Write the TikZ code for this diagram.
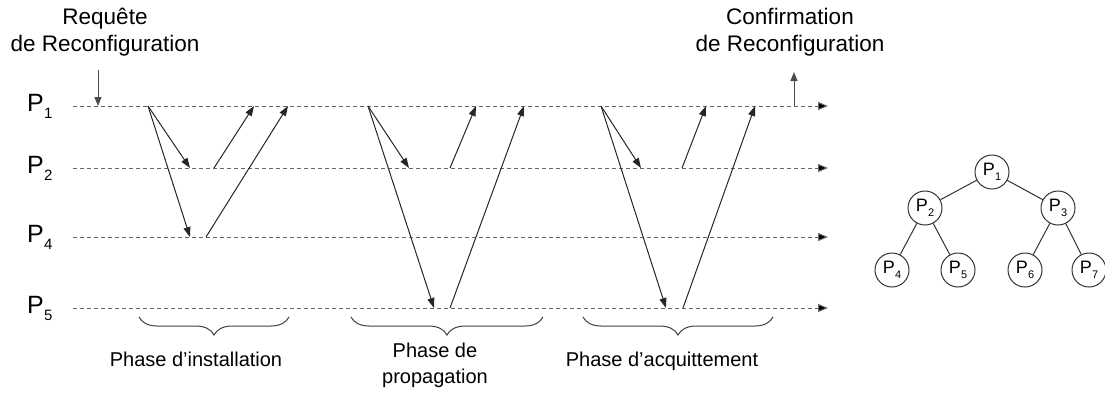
\documentclass[tikz,border=0pt]{standalone}
\usepackage{fontspec}
\setmainfont{Liberation Sans}
\usetikzlibrary{arrows.meta,decorations.pathreplacing}

% process name with lowered index
\newcommand{\procname}[2]{P\kern0.3pt\raisebox{-0.3em}{\fontsize{#2}{#2}\selectfont #1}}

\begin{document}
\begin{tikzpicture}[x=1pt,y=-1pt,
  timeline/.style={draw=black!60, dashed, dash pattern=on 4pt off 3pt, line width=1pt,
    -{Triangle[length=10pt,width=8pt,fill=black]}},
  msg/.style={draw=black!85, line width=1pt, -{Triangle[length=10pt,width=7pt]}},
  sig/.style={draw=black!70, line width=1pt, -{Triangle[length=9pt,width=7pt]}},
  proclabel/.style={anchor=base west, inner sep=0pt, font=\fontsize{25}{25}\selectfont},
  headtext/.style={align=center, inner sep=0pt, font=\fontsize{22.5}{27}\selectfont},
  phasetext/.style={align=center, inner sep=0pt, font=\fontsize{20}{26}\selectfont},
  phasebrace/.style={draw=black!75, line width=1pt,
    decorate, decoration={brace, mirror, amplitude=18pt}},
  treenode/.style={circle, draw=black!80, line width=1pt, minimum size=34pt, inner sep=0pt,
    font=\fontsize{18}{18}\selectfont},
  treeedge/.style={draw=black!80, line width=1pt}]

\useasboundingbox (0,0) rectangle (1105,392);

% process time lines
\coordinate (l1s) at (73,106);  \coordinate (l1e) at (828,106);
\coordinate (l2s) at (73,168);  \coordinate (l2e) at (828,168);
\coordinate (l4s) at (73,237);  \coordinate (l4e) at (828,237);
\coordinate (l5s) at (73,308);  \coordinate (l5e) at (828,308);
\draw[timeline] (l1s) -- (l1e);
\draw[timeline] (l2s) -- (l2e);
\draw[timeline] (l4s) -- (l4e);
\draw[timeline] (l5s) -- (l5e);

\node[proclabel] (p1) at (27,111) {\procname{1}{15}};
\node[proclabel] (p2) at (27,173) {\procname{2}{15}};
\node[proclabel] (p4) at (27,242) {\procname{4}{15}};
\node[proclabel] (p5) at (27,313) {\procname{5}{15}};

% request and confirmation
\node[headtext] (req) at (105,32) {Requête\\de Reconfiguration};
\node[headtext] (conf) at (790,32) {Confirmation\\de Reconfiguration};
\coordinate (reqtop) at (98,70);   \coordinate (reqbot) at (98,106);
\coordinate (confbot) at (794,106); \coordinate (conftop) at (794,72);
\draw[sig] (reqtop) -- (reqbot);
\draw[sig] (confbot) -- (conftop);

% installation phase
\coordinate (a0) at (148,106);
\coordinate (a2) at (190,168);  \coordinate (a4) at (190,237);
\coordinate (a2u) at (214,168); \coordinate (a4u) at (206,237);
\coordinate (a1r) at (254,106); \coordinate (a1s) at (288,106);
\draw[msg] (a0) -- (a2);
\draw[msg] (a0) -- (a4);
\draw[msg] (a2u) -- (a1r);
\draw[msg] (a4u) -- (a1s);

% propagation phase
\coordinate (b0) at (368,106);
\coordinate (b2) at (409,168);  \coordinate (b5) at (434,308);
\coordinate (b2u) at (450,168); \coordinate (b5u) at (450,308);
\coordinate (b1r) at (476,106); \coordinate (b1s) at (524,106);
\draw[msg] (b0) -- (b2);
\draw[msg] (b0) -- (b5);
\draw[msg] (b2u) -- (b1r);
\draw[msg] (b5u) -- (b1s);

% acknowledgement phase
\coordinate (c0) at (601,106);
\coordinate (c2) at (641,168);  \coordinate (c5) at (666,308);
\coordinate (c2u) at (682,168); \coordinate (c5u) at (683,308);
\coordinate (c1r) at (706,106); \coordinate (c1s) at (755,106);
\draw[msg] (c0) -- (c2);
\draw[msg] (c0) -- (c5);
\draw[msg] (c2u) -- (c1r);
\draw[msg] (c5u) -- (c1s);

% phase braces
\coordinate (ba) at (139,317); \coordinate (bb) at (289,317);
\coordinate (bc) at (351,317); \coordinate (bd) at (543,317);
\coordinate (be) at (583,317); \coordinate (bf) at (773,317);
\draw[phasebrace] (ba) -- (bb);
\draw[phasebrace] (bc) -- (bd);
\draw[phasebrace] (be) -- (bf);
\node[phasetext, anchor=base] (ph1) at (196,366) {Phase d’installation};
\node[phasetext, anchor=base] (ph2) at (435,383) {Phase de\\propagation};
\node[phasetext, anchor=base] (ph3) at (662,366) {Phase d’acquittement};

% process tree
\node[treenode] (t1) at (992,172) {\procname{1}{11}};
\node[treenode] (t2) at (925,208) {\procname{2}{11}};
\node[treenode] (t3) at (1058,208) {\procname{3}{11}};
\node[treenode] (t4) at (892,270) {\procname{4}{11}};
\node[treenode] (t5) at (958,270) {\procname{5}{11}};
\node[treenode] (t6) at (1025,270) {\procname{6}{11}};
\node[treenode] (t7) at (1089,270) {\procname{7}{11}};
\draw[treeedge] (t1) -- (t2);
\draw[treeedge] (t1) -- (t3);
\draw[treeedge] (t2) -- (t4);
\draw[treeedge] (t2) -- (t5);
\draw[treeedge] (t3) -- (t6);
\draw[treeedge] (t3) -- (t7);

\end{tikzpicture}
\end{document}
